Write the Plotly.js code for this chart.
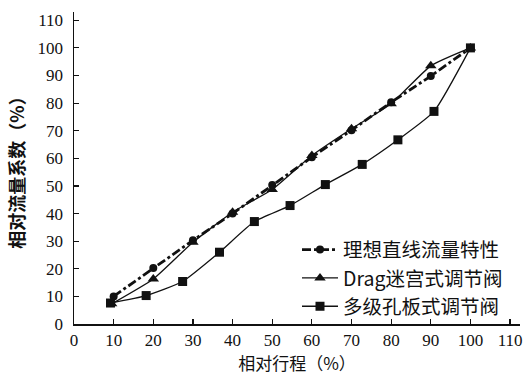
<!DOCTYPE html>
<html>
<head>
<meta charset="utf-8">
<script src="https://cdn.plot.ly/plotly-3.0.1.min.js"></script>
<style>html,body{margin:0;padding:0;background:#fff;}#chart{width:527px;height:375px;}</style>
</head>
<body>
<div id="chart"></div>
<script>
// Data
const idealX = [10, 20, 30, 40, 50, 60, 70, 80, 90, 100];
const idealY = [10, 20.3, 30.3, 40, 50.3, 60.4, 70.2, 80.3, 89.8, 100];

const dragX = [9.5, 20, 30, 40, 50, 60, 70, 80, 90, 100];
const dragY = [7.3, 16.3, 29.6, 40.5, 48.7, 61, 70.7, 79.8, 93.5, 100];

const orificeX = [9.2, 18.2, 27.4, 36.7, 45.5, 54.5, 63.4, 72.7, 81.7, 90.8, 100];
const orificeY = [7.6, 10.3, 15.4, 26, 37.1, 42.9, 50.5, 57.8, 66.7, 77, 100];

const names = ['理想直线流量特性', 'Drag迷宫式调节阀', '多级孔板式调节阀'];
const xTickVals = [0, 10, 20, 30, 40, 50, 60, 70, 80, 90, 100, 110];
const yTickVals = [0, 10, 20, 30, 40, 50, 60, 70, 80, 90, 100, 110];

const serif = '"Liberation Serif", "Times New Roman", "Noto Sans CJK SC", serif';
const cjk = '"Noto Sans CJK SC", sans-serif';

const traces = [
  {
    x: idealX, y: idealY, name: names[0], type: 'scatter', mode: 'lines+markers',
    line: {color: '#111', width: 2.8, dash: 'dashdot'},
    marker: {symbol: 'circle', size: 8, color: '#111'}
  },
  {
    x: dragX, y: dragY, name: names[1], type: 'scatter', mode: 'lines+markers',
    line: {color: '#111', width: 1.3, shape: 'spline', smoothing: 0.5},
    marker: {symbol: 'triangle-up', size: 10, color: '#111'}
  },
  {
    x: orificeX, y: orificeY, name: names[2], type: 'scatter', mode: 'lines+markers',
    line: {color: '#111', width: 1.3, shape: 'spline', smoothing: 0.5},
    marker: {symbol: 'square', size: 9, color: '#111'}
  }
];

const layout = {
  width: 527, height: 375,
  margin: {l: 74, r: 7, t: 12, b: 51},
  paper_bgcolor: '#fff', plot_bgcolor: '#fff',
  showlegend: true,
  legend: {
    x: 0.5, y: 0.3, xanchor: 'left', yanchor: 'top',
    font: {family: cjk, size: 19.5, color: '#111'},
    bgcolor: 'rgba(0,0,0,0)', tracegroupgap: 0, itemwidth: 36
  },
  xaxis: {
    range: [0, 112.5], tickvals: xTickVals, ticktext: xTickVals.map(String),
    ticks: 'inside', ticklen: 5, tickwidth: 1.2, tickcolor: '#111',
    showline: true, linecolor: '#111', linewidth: 1.5,
    showgrid: false, zeroline: false,
    tickfont: {family: serif, size: 17, color: '#111'},
    title: {text: '相对行程（%）', font: {family: cjk, size: 17, color: '#111'}, standoff: 8}
  },
  yaxis: {
    range: [0, 113], tickvals: yTickVals, ticktext: yTickVals.map(String),
    ticks: 'inside', ticklen: 5, tickwidth: 1.2, tickcolor: '#111',
    showline: true, linecolor: '#111', linewidth: 1.5,
    showgrid: false, zeroline: false,
    ticklabelstandoff: 6,
    tickfont: {family: serif, size: 17, color: '#111'},
    title: {text: '相对流量系数（%）', font: {family: cjk, size: 18, color: '#111', weight: 'bold'}, standoff: 8}
  }
};

Plotly.newPlot('chart', traces, layout, {displayModeBar: false, staticPlot: true});
</script>
</body>
</html>
